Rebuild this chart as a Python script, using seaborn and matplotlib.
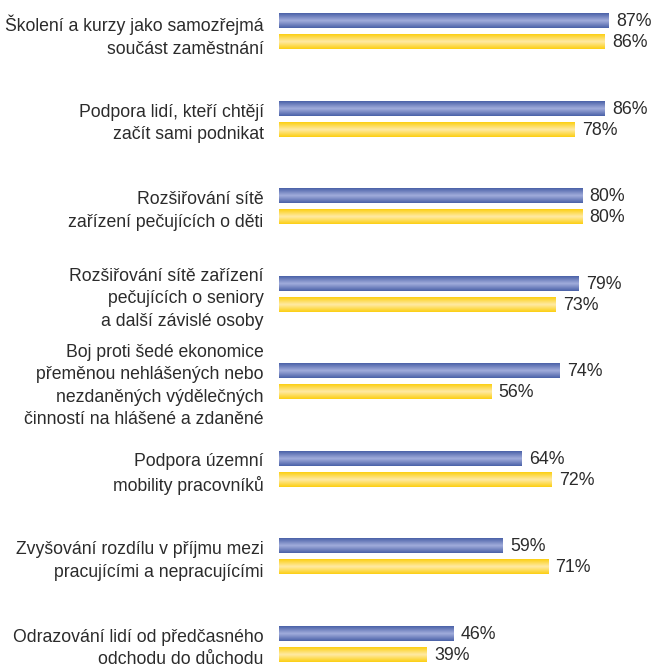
import numpy as np
import pandas as pd
import matplotlib
matplotlib.use("Agg")
import matplotlib.pyplot as plt
from matplotlib.colors import LinearSegmentedColormap
import seaborn as sns

categories = [
    "Školení a kurzy jako samozřejmá\nsoučást zaměstnání",
    "Podpora lidí, kteří chtějí\nzačít sami podnikat",
    "Rozšiřování sítě\nzařízení pečujících o děti",
    "Rozšiřování sítě zařízení\npečujících o seniory\na další závislé osoby",
    "Boj proti šedé ekonomice\npřeměnou nehlášených nebo\nnezdaněných výdělečných\nčinností na hlášené a zdaněné",
    "Podpora územní\nmobility pracovníků",
    "Zvyšování rozdílu v příjmu mezi\npracujícími a nepracujícími",
    "Odrazování lidí od předčasného\nodchodu do důchodu",
]
series_a = [87, 86, 80, 79, 74, 64, 59, 46]
series_b = [86, 78, 80, 73, 56, 72, 71, 39]

df = pd.DataFrame({
    "category": categories * 2,
    "value": series_a + series_b,
    "series": ["A"] * len(categories) + ["B"] * len(categories),
})

sns.set_style("white")
plt.rcParams["font.family"] = ["Liberation Sans", "DejaVu Sans"]

fig = plt.figure(figsize=(6.55, 6.70), dpi=100)
ax = fig.add_axes([279 / 655, 0, 1 - 279 / 655, 1])

ax = sns.barplot(data=df, x="value", y="category", hue="series", orient="h",
                 palette={"A": "#6f80c2", "B": "#ffdc5a"}, width=0.48, gap=0.29,
                 legend=False, ax=ax)

# gradient fill to mimic the shaded bars
blue = LinearSegmentedColormap.from_list("b", ["#4a61a8", "#a2addc", "#4a61a8"])
yellow = LinearSegmentedColormap.from_list("y", ["#fccf12", "#ffeaa6", "#fccf12"])
grad = np.linspace(0, 1, 64).reshape(-1, 1)

n = len(categories)
for i, p in enumerate(ax.patches[:2 * n]):
    cmap = blue if i < n else yellow
    x0, y0 = p.get_x(), p.get_y()
    w, h = p.get_width(), p.get_height()
    ax.imshow(grad, cmap=cmap, aspect="auto", extent=[x0, x0 + w, y0 + h, y0],
              interpolation="bilinear", zorder=2)
    p.set_visible(False)
    ax.text(x0 + w + 1.9, y0 + h / 2 + 0.01, f"{int(round(w))}%", va="center",
            ha="left", fontsize=12.8, color="#2b2b2b")

ax.set_xlim(0, 99.2)
ax.set_ylim(7.30, -0.36)
ax.set_xlabel("")
ax.set_ylabel("")
ax.set_xticks([])
ax.tick_params(axis="y", length=0, pad=11, labelsize=12.7, labelcolor="#2b2b2b")
for lbl in ax.get_yticklabels():
    lbl.set_horizontalalignment("right")
    lbl.set_multialignment("right")
    lbl.set_linespacing(1.42)
sns.despine(ax=ax, left=True, bottom=True)

fig.savefig("out.png", dpi=100)
